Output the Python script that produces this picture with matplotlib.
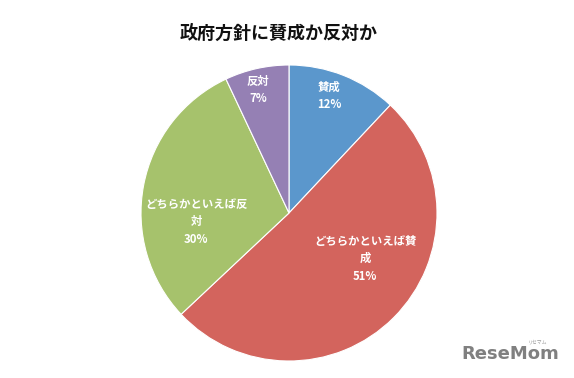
import numpy as np
import matplotlib
matplotlib.use("Agg")
import matplotlib.pyplot as plt

plt.rcParams['font.family'] = ['Noto Sans CJK JP', 'DejaVu Sans']

# data
categories = ["賛成", "どちらかといえば賛\n成", "どちらかといえば反\n対", "反対"]
shares = [12, 51, 30, 7]
colors = ["#5b97cc", "#d3645d", "#a6c26c", "#9580b4"]

# label placement (radius fraction, angle in degrees clockwise from top)
label_pos = [(0.835, 19), (0.60, 121), (0.63, 264.5), (0.855, 346)]

fig = plt.figure(figsize=(5.74, 3.78), dpi=100)
cx, cy, R = 289, 213, 148
W, H = 574, 378
ax = fig.add_axes([(cx - R) / W, (H - cy - R) / H, 2 * R / W, 2 * R / H])

wedges, _ = ax.pie(shares, colors=colors, startangle=90, counterclock=False,
                   radius=1.0, wedgeprops=dict(edgecolor="white", linewidth=0.8))
ax.set_xlim(-1, 1)
ax.set_ylim(-1, 1)
ax.set_aspect("equal")

for cat, val, (r, ang) in zip(categories, shares, label_pos):
    a = np.deg2rad(ang)
    ax.text(r * np.sin(a), r * np.cos(a), f"{cat}\n{val}%", ha="center", va="center",
            color="white", fontsize=8.2, fontweight="bold", linespacing=1.45)

fig.text(279 / W, 1 - 33 / H, "政府方針に賛成か反対か", ha="center", va="center",
         fontsize=13, fontweight="bold", color="#111111")

# watermark
fig.text(510 / W, 1 - 354 / H, "ReseMom", ha="center", va="center",
         fontsize=13, fontweight="bold", color="#808080", family="DejaVu Sans")
fig.text(538 / W, 1 - 342 / H, "リセマム", ha="center", va="center",
         fontsize=3.5, color="#9a9a9a")

fig.savefig("out.png", dpi=100)
